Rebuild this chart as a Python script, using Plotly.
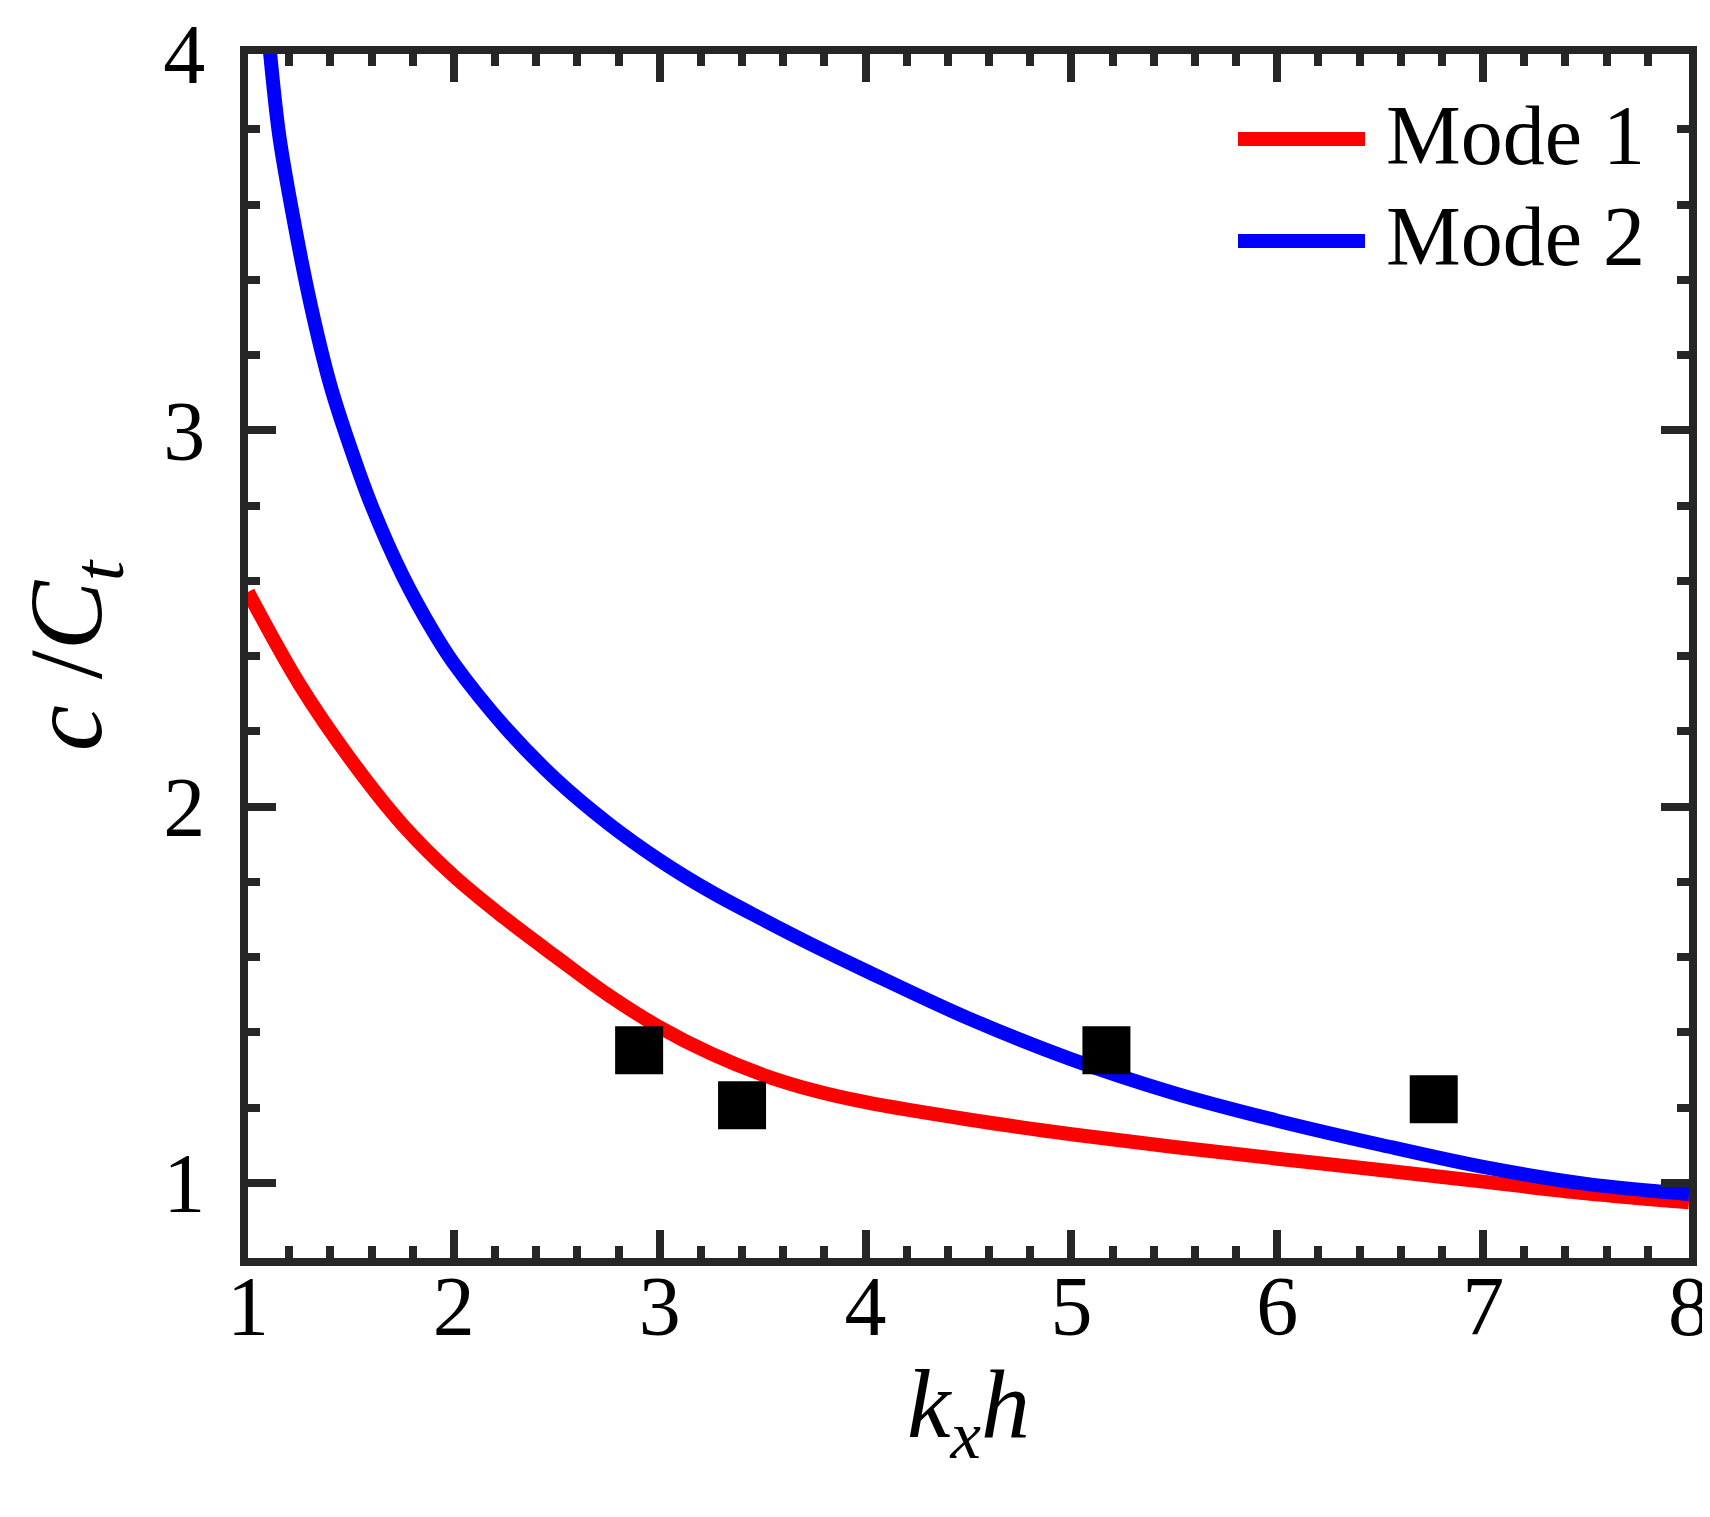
import plotly.graph_objects as go

# dispersion curves
kh_mode1 = [1.0, 1.25, 1.5, 1.75, 2.0, 2.25, 2.5, 2.75, 3.0, 3.25, 3.5, 3.75,
            4.0, 4.5, 5.0, 5.5, 6.0, 6.5, 7.0, 7.5, 8.0]
c_mode1 = [2.570, 2.325, 2.124, 1.952, 1.815, 1.702, 1.599, 1.499, 1.413, 1.343,
           1.287, 1.245, 1.214, 1.168, 1.129, 1.095, 1.064, 1.034, 1.003, 0.972, 0.948]

kh_mode2 = [1.106, 1.15, 1.2, 1.3, 1.4, 1.5, 1.6, 1.75, 1.9, 2.0, 2.25, 2.5, 2.75,
            3.0, 3.25, 3.5, 3.75, 4.0, 4.5, 5.0, 5.5, 6.0, 6.5, 7.0, 7.5, 8.0]
c_mode2 = [4.01, 3.79, 3.625, 3.345, 3.12, 2.95, 2.80, 2.615, 2.465, 2.38, 2.21,
           2.07, 1.955, 1.857, 1.773, 1.700, 1.630, 1.564, 1.437, 1.328, 1.238,
           1.165, 1.101, 1.042, 0.997, 0.970]

# measured points (squares)
kh_meas = [2.90, 3.40, 5.17, 6.76]
c_meas = [1.352, 1.206, 1.352, 1.222]

mode_names = ["Mode 1", "Mode 2"]
mode_colors = ["#ff0000", "#0000ff"]

W, H = 1710, 1517
ML, MR, MT, MB = 240, 29, 46, 267
axis_col = "#262626"
serif = "Liberation Serif, Times New Roman, serif"

fig = go.Figure()
fig.add_trace(go.Scatter(x=kh_mode1, y=c_mode1, mode="lines", name=mode_names[0],
                         line=dict(color=mode_colors[0], width=14, shape="spline"),
                         showlegend=False))
fig.add_trace(go.Scatter(x=kh_mode2, y=c_mode2, mode="lines", name=mode_names[1],
                         line=dict(color=mode_colors[1], width=14, shape="spline"),
                         showlegend=False))
fig.add_trace(go.Scatter(x=kh_meas, y=c_meas, mode="markers",
                         marker=dict(symbol="square", size=48, color="black",
                                     line=dict(width=0)),
                         showlegend=False))

# legend drawn by hand so the sample lines are long like in the original
pw = W - ML - MR
ph = H - MT - MB
leg_y = [131, 233]
for name, col, py in zip(mode_names, mode_colors, leg_y):
    yp = (H - MB - py) / ph
    fig.add_shape(type="line", xref="paper", yref="paper",
                  x0=(1230 - ML) / pw, x1=(1357 - ML) / pw, y0=yp, y1=yp,
                  line=dict(color=col, width=14))
    fig.add_annotation(xref="paper", yref="paper", x=(1376 - ML) / pw,
                       y=(H - MB - py + 4) / ph,
                       text=name, showarrow=False, xanchor="left", yanchor="middle",
                       font=dict(family=serif, size=84, color="black"))

axis_common = dict(
    showline=True, linewidth=8, linecolor=axis_col, mirror="allticks",
    ticks="inside", ticklen=28, tickwidth=8, tickcolor=axis_col,
    showgrid=False, zeroline=False,
    tickfont=dict(family=serif, size=84, color="black"),
)

fig.update_xaxes(range=[1, 8], dtick=1, tick0=1, ticklabelstandoff=-32,
                 minor=dict(dtick=0.2, ticks="inside", ticklen=12, tickwidth=8,
                            tickcolor=axis_col, showgrid=False),
                 title=dict(text="<i>k<sub>x</sub>h</i>", standoff=20,
                            font=dict(family=serif, size=98, color="black")),
                 **axis_common)
fig.update_yaxes(range=[0.8, 4], dtick=1, tick0=1, ticklabelstandoff=18,
                 minor=dict(dtick=0.2, ticks="inside", ticklen=12, tickwidth=8,
                            tickcolor=axis_col, showgrid=False),
                 title=dict(text="<i>c</i> /<i>C<sub>t</sub></i>", standoff=52,
                            font=dict(family=serif, size=104, color="black")),
                 **axis_common)

fig.update_layout(width=W, height=H, plot_bgcolor="white", paper_bgcolor="white",
                  margin=dict(l=ML, r=MR, t=MT, b=MB, autoexpand=False),
                  showlegend=False)

fig.write_html("out.html")
